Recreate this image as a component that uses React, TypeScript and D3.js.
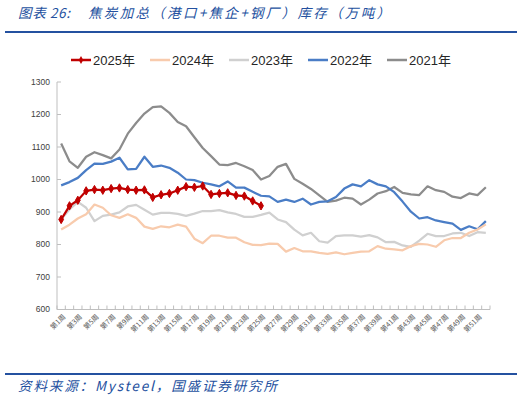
import * as d3 from "d3";
import { useEffect, useRef } from "react";

const WEEKS = d3.range(1, 53);
const TICK_WEEKS = WEEKS.filter((w) => w % 2 === 1);
const Y_TICKS = [600, 700, 800, 900, 1000, 1100, 1200, 1300];

const V2025 = [877, 919, 936, 965, 969, 967, 972, 974, 969, 967, 968, 945, 953, 957, 967, 978, 976, 980, 954, 957, 959, 951, 949, 934, 919];
const V2024 = [846, 861, 880, 893, 923, 913, 890, 882, 893, 882, 855, 848, 856, 853, 861, 855, 818, 804, 827, 827, 821, 821, 807, 799, 798, 803, 802, 778, 789, 779, 779, 774, 771, 776, 770, 774, 778, 779, 795, 787, 785, 782, 795, 802, 800, 793, 813, 820, 820, 836, 846, 862];
const V2023 = [878, 908, 931, 913, 872, 888, 892, 899, 917, 922, 907, 892, 897, 897, 894, 888, 895, 903, 903, 906, 899, 894, 885, 885, 891, 898, 877, 869, 846, 828, 836, 810, 806, 826, 828, 828, 824, 829, 822, 807, 808, 797, 793, 812, 833, 826, 826, 834, 836, 826, 838, 836];
const V2022 = [982, 992, 1005, 1029, 1049, 1048, 1055, 1067, 1031, 1033, 1070, 1039, 1043, 1036, 1021, 1000, 998, 990, 985, 979, 994, 975, 975, 962, 950, 948, 931, 938, 931, 941, 923, 931, 933, 946, 972, 985, 979, 998, 985, 979, 961, 932, 901, 880, 884, 874, 869, 864, 845, 856, 847, 872];
const V2021 = [1111, 1056, 1036, 1070, 1084, 1075, 1065, 1092, 1141, 1174, 1203, 1223, 1225, 1205, 1177, 1164, 1130, 1097, 1072, 1046, 1044, 1051, 1041, 1029, 1000, 1011, 1039, 1048, 1002, 987, 971, 951, 931, 935, 944, 941, 923, 938, 957, 964, 977, 959, 954, 952, 979, 967, 962, 947, 943, 957, 952, 976];

const SERIES = [
	{ name: "2025年", color: "#C00000", values: V2025, marker: true },
	{ name: "2024年", color: "#F8CBAD", values: V2024, marker: false },
	{ name: "2023年", color: "#D0D0D0", values: V2023, marker: false },
	{ name: "2022年", color: "#4A7DC6", values: V2022, marker: false },
	{ name: "2021年", color: "#8C8C8C", values: V2021, marker: false },
];

const BLUE = "#2451A0";
const CJK = "'Noto Sans CJK SC', sans-serif";
const NUM = "'Liberation Sans', Arial, sans-serif";

export default function App() {
	const svgRef = useRef<SVGSVGElement>(null);

	useEffect(() => {
		if (!svgRef.current) return;
		const width = 525;
		const height = 400;
		const svg = d3.select(svgRef.current);
		svg.selectAll("*").remove();
		svg.attr("width", width).attr("height", height);

		svg.append("rect").attr("width", width).attr("height", height).attr("fill", "#fff");

		// Title + rule
		svg
			.append("text")
			.attr("x", 18)
			.attr("y", 18)
			.attr("font-family", CJK)
			.attr("font-style", "italic")
			.attr("font-size", 13.5)
			.attr("fill", BLUE)
			.attr("textLength", 52)
			.attr("lengthAdjust", "spacing")
			.text("图表 26:");
		svg
			.append("text")
			.attr("x", 88)
			.attr("y", 18)
			.attr("font-family", CJK)
			.attr("font-style", "italic")
			.attr("font-size", 13.5)
			.attr("fill", BLUE)
			.attr("textLength", 302)
			.attr("lengthAdjust", "spacing")
			.text("焦炭加总（港口+焦企+钢厂）库存（万吨）");
		svg.append("line").attr("x1", 5).attr("x2", 517).attr("y1", 32).attr("y2", 32).attr("stroke", BLUE).attr("stroke-width", 2);

		// Footer
		svg.append("line").attr("x1", 5).attr("x2", 517).attr("y1", 374).attr("y2", 374).attr("stroke", BLUE).attr("stroke-width", 2);
		svg
			.append("text")
			.attr("x", 18)
			.attr("y", 391)
			.attr("font-family", CJK)
			.attr("font-style", "italic")
			.attr("font-size", 13.5)
			.attr("fill", BLUE)
			.attr("textLength", 259)
			.attr("lengthAdjust", "spacing")
			.text("资料来源：Mysteel，国盛证券研究所");

		// Scales
		const x = d3.scaleBand<number>().domain(WEEKS).range([57, 490]).paddingInner(0).paddingOuter(0);
		const cx = (w: number) => (x(w) ?? 0) + x.bandwidth() / 2;
		const y = d3.scaleLinear().domain([600, 1300]).range([309.5, 82]);

		const axisColor = "#BFBFBF";
		const g = svg.append("g");

		// Y axis
		g.append("line").attr("x1", 57).attr("x2", 57).attr("y1", y(1300)).attr("y2", y(600)).attr("stroke", axisColor);
		Y_TICKS.forEach((t) => {
			g.append("line").attr("x1", 57).attr("x2", 61).attr("y1", y(t)).attr("y2", y(t)).attr("stroke", axisColor);
			g.append("text")
				.attr("x", 50)
				.attr("y", y(t))
				.attr("dy", "0.35em")
				.attr("text-anchor", "end")
				.attr("font-family", NUM)
				.attr("font-size", 8.5)
				.attr("fill", "#404040")
				.text(t);
		});

		// X axis
		g.append("line").attr("x1", 57).attr("x2", 490).attr("y1", y(600)).attr("y2", y(600)).attr("stroke", axisColor);
		[...WEEKS, 53].forEach((w) => {
			const px = w === 53 ? 490 : x(w) ?? 0;
			g.append("line").attr("x1", px).attr("x2", px).attr("y1", y(600) - 4).attr("y2", y(600)).attr("stroke", axisColor);
		});
		TICK_WEEKS.forEach((w) => {
			g.append("text")
				.attr("transform", `translate(${cx(w) + 3},${y(600) + 6}) rotate(-45)`)
				.attr("text-anchor", "end")
				.attr("dy", "0.35em")
				.attr("font-family", CJK)
				.attr("font-size", 7)
				.attr("fill", "#595959")
				.text(`第${w}周`);
		});

		// Lines (2025 drawn last)
		const line = d3
			.line<number>()
			.x((_, i) => cx(WEEKS[i]))
			.y((d) => y(d));

		[...SERIES].reverse().forEach((s) => {
			g.append("path")
				.attr("d", line(s.values))
				.attr("fill", "none")
				.attr("stroke", s.color)
				.attr("stroke-width", s.marker ? 2.25 : 2.25)
				.attr("stroke-linejoin", "round");
			if (s.marker) {
				g.selectAll(null)
					.data(s.values)
					.enter()
					.append("path")
					.attr("d", d3.symbol(d3.symbolDiamond, 20)())
					.attr("transform", (d, i) => `translate(${cx(WEEKS[i])},${y(d)})`)
					.attr("fill", s.color)
					.attr("stroke", s.color)
					.attr("stroke-width", 1);
			}
		});

		// Legend
		const legendX = [71, 150, 229, 308, 387];
		SERIES.forEach((s, i) => {
			const lg = svg.append("g").attr("transform", `translate(${legendX[i]},60)`);
			lg.append("line").attr("x1", 0).attr("x2", 20).attr("stroke", s.color).attr("stroke-width", 2.5);
			if (s.marker) {
				lg.append("path").attr("d", d3.symbol(d3.symbolDiamond, 18)()).attr("transform", "translate(10,0)").attr("fill", s.color);
			}
			lg.append("text")
				.attr("x", 22)
				.attr("dy", "0.36em")
				.attr("font-family", NUM)
				.attr("font-size", 13)
				.attr("fill", "#262626")
				.text(s.name.slice(0, 4))
				.append("tspan")
				.attr("font-family", CJK)
				.text("年");
		});
	}, []);

	return (
		<div style={{ position: "absolute", left: 0, top: 0 }}>
			<svg ref={svgRef} />
		</div>
	);
}
